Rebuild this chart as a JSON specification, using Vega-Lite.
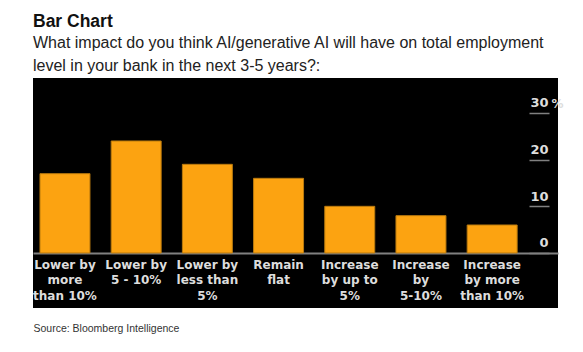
{
  "$schema": "https://vega.github.io/schema/vega-lite/v6.json",
  "width": 525,
  "height": 230,
  "autosize": {"type": "none"},
  "padding": {"left": 33, "top": 78, "right": 25, "bottom": 44},
  "background": "white",
  "title": {
    "text": "Bar Chart",
    "subtitle": ["What impact do you think AI/generative AI will have on total employment", "level in your bank in the next 3-5 years?:"],
    "anchor": "start",
    "frame": "group",
    "font": "Liberation Sans",
    "fontSize": 17.5,
    "fontWeight": "bold",
    "color": "#111111",
    "subtitleFont": "Liberation Sans",
    "subtitleFontSize": 16,
    "subtitleColor": "#222222",
    "subtitleLineHeight": 23,
    "subtitlePadding": 5,
    "offset": 4
  },
  "data": {
    "values": [
      {"answer": "Lower by|more|than 10%", "pct": 17},
      {"answer": "Lower by|5 - 10%", "pct": 24},
      {"answer": "Lower by|less than|5%", "pct": 19},
      {"answer": "Remain|flat", "pct": 16},
      {"answer": "Increase|by up to|5%", "pct": 10},
      {"answer": "Increase|by|5-10%", "pct": 8},
      {"answer": "Increase|by more|than 10%", "pct": 6}
    ]
  },
  "mark": {"type": "bar", "fill": "#fca311", "stroke": "#b97a0e", "strokeWidth": 1},
  "encoding": {
    "x": {
      "field": "answer",
      "type": "nominal",
      "sort": null,
      "scale": {"paddingInner": 0.298, "paddingOuter": 0.336, "align": 0.146},
      "axis": {
        "orient": "bottom",
        "offset": -55,
        "labelExpr": "split(datum.label, '|')",
        "labelAngle": 0,
        "labelAlign": "center",
        "labelBaseline": "top",
        "labelPadding": 6,
        "labelLineHeight": 15.5,
        "labelFont": "DejaVu Sans",
        "labelFontSize": 12,
        "labelFontWeight": "bold",
        "labelColor": "#dddddd",
        "labelLimit": 0,
        "ticks": false,
        "grid": false,
        "domain": true,
        "domainColor": "#808080",
        "domainWidth": 2,
        "title": "Source: Bloomberg Intelligence",
        "titleAnchor": "start",
        "titleAlign": "left",
        "titleFont": "Liberation Sans",
        "titleFontSize": 10.5,
        "titleFontWeight": "normal",
        "titleColor": "#333333",
        "titlePadding": 22
      }
    },
    "y": {
      "field": "pct",
      "type": "quantitative",
      "scale": {"domain": [-11.79, 37.5], "nice": false, "zero": false},
      "axis": {
        "orient": "right",
        "offset": -9,
        "values": [0, 10, 20, 30],
        "domain": false,
        "grid": false,
        "ticks": true,
        "tickSize": -20,
        "tickColor": "#808080",
        "tickWidth": 1.5,
        "labelAlign": "right",
        "labelBaseline": "alphabetic",
        "labelOffset": -6,
        "labelPadding": 19,
        "labelFont": "DejaVu Sans",
        "labelFontSize": 13,
        "labelFontWeight": "bold",
        "labelColor": "#dddddd",
        "title": "%",
        "titleAngle": 0,
        "titleAlign": "left",
        "titleBaseline": "alphabetic",
        "titleX": 2,
        "titleY": 29,
        "titleFont": "DejaVu Sans",
        "titleFontSize": 12,
        "titleFontWeight": "bold",
        "titleColor": "#dddddd"
      }
    },
    "y2": {"datum": 0}
  },
  "config": {"view": {"fill": "black", "stroke": null}}
}
